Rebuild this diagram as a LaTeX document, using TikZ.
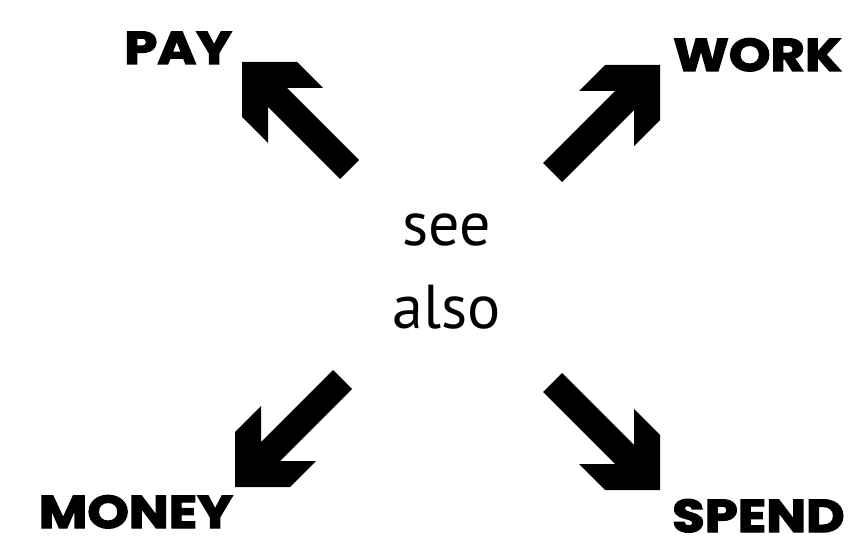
\documentclass[tikz,border=0pt]{standalone}
\usepackage{fontspec}
\newfontfamily\labfont{Poppins}[BoldFeatures={FakeBold=3,FakeStretch=1.15}]
\newfontfamily\seefont{PT Sans}
\newcommand\myblockarrow[3]{%
  \fill[blockarrow,shift={(#1)},xscale=#2,yscale=#3]
    (0,0) -- (55,0) -- (81,26) -- (45,26) -- (117,98) -- (98,117)
    -- (26,45) -- (26,81) -- (0,55) -- cycle;}
\begin{document}
\begin{tikzpicture}[x=1pt,y=-1pt,
  lab/.style={font=\labfont\bfseries\fontsize{46}{46}\selectfont, inner sep=0pt},
  seetxt/.style={font=\seefont\fontsize{62}{62}\selectfont, inner sep=0pt, anchor=base},
  blockarrow/.style={fill=black, draw=none}]
\useasboundingbox[fill=white] (0,0) rectangle (853,540);
% centre text
\node[seetxt] (see) at (447,245) {see};
\node[seetxt] (also) at (447,328) {also};
% labels
\node[lab, anchor=base east] (pay) at (232,64) {PAY};
\node[lab, anchor=base west] (work) at (673,71) {WORK};
\node[lab, anchor=base east] (money) at (233,528) {MONEY};
\node[lab, anchor=base west] (spend) at (672,532) {SPEND};
% arrow tips
\coordinate (tpay) at (242,62);
\coordinate (twork) at (660,65);
\coordinate (tmoney) at (235,487);
\coordinate (tspend) at (660,490);
\myblockarrow{tpay}{1}{1}
\myblockarrow{twork}{-1}{1}
\myblockarrow{tmoney}{1}{-1}
\myblockarrow{tspend}{-1}{-1}
\end{tikzpicture}
\end{document}
